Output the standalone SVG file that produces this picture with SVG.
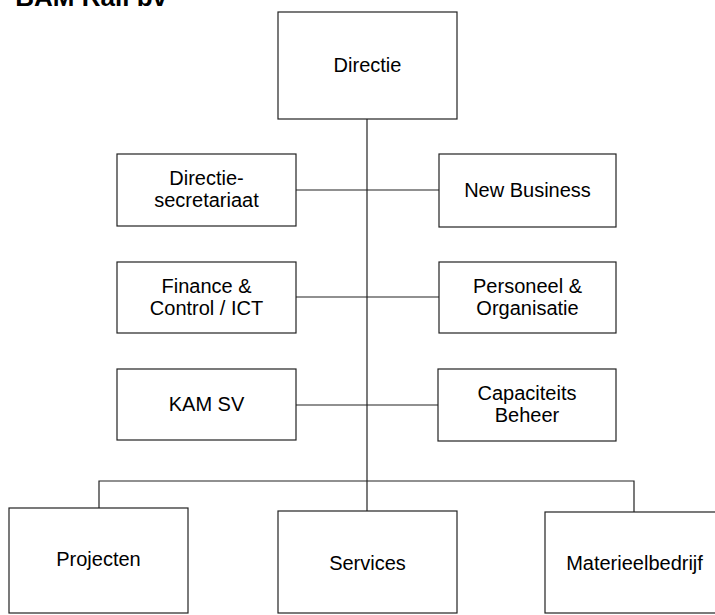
<svg xmlns="http://www.w3.org/2000/svg" width="715" height="615" viewBox="0 0 715 615">
<style>
.box{fill:#fff;stroke:#222;stroke-width:1.2}
.lbl{font-family:"Liberation Sans",Arial,sans-serif;font-size:20px;fill:#000;text-anchor:middle}
.con{stroke:#222;stroke-width:1.2;fill:none}
.title{font-family:"Liberation Sans",Arial,sans-serif;font-size:26px;font-weight:bold;fill:#000;text-anchor:end}
</style>
<rect width="715" height="615" fill="#fff"/>
<text class="title" x="167" y="6">BAM Rail bv</text>
<g id="connectors">
<line class="con" x1="367" y1="119" x2="367" y2="511"/>
<line class="con" x1="296" y1="190" x2="439" y2="190"/>
<line class="con" x1="296" y1="297" x2="439" y2="297"/>
<line class="con" x1="296" y1="405" x2="438" y2="405"/>
<polyline class="con" points="99,508 99,481 634,481 634,512"/>
</g>
<g id="directie">
<rect class="box" x="278" y="12" width="179" height="107"/>
<text class="lbl" x="367.5" y="72">Directie</text>
</g>
<g id="directiesecretariaat">
<rect class="box" x="117" y="154" width="179" height="72"/>
<text class="lbl" x="206.5" y="185">Directie-</text>
<text class="lbl" x="206.5" y="207">secretariaat</text>
</g>
<g id="newbusiness">
<rect class="box" x="439" y="154" width="177" height="73"/>
<text class="lbl" x="527.5" y="197">New Business</text>
</g>
<g id="finance">
<rect class="box" x="117" y="262" width="179" height="71"/>
<text class="lbl" x="206.5" y="293">Finance &amp;</text>
<text class="lbl" x="206.5" y="315">Control / ICT</text>
</g>
<g id="personeel">
<rect class="box" x="439" y="262" width="177" height="71"/>
<text class="lbl" x="527.5" y="293">Personeel &amp;</text>
<text class="lbl" x="527.5" y="315">Organisatie</text>
</g>
<g id="kamsv">
<rect class="box" x="117" y="369" width="179" height="71"/>
<text class="lbl" x="206.5" y="411">KAM SV</text>
</g>
<g id="capaciteitsbeheer">
<rect class="box" x="438" y="369" width="178" height="72"/>
<text class="lbl" x="527" y="400">Capaciteits</text>
<text class="lbl" x="527" y="422">Beheer</text>
</g>
<g id="projecten">
<rect class="box" x="9" y="508" width="179" height="105"/>
<text class="lbl" x="98.5" y="566">Projecten</text>
</g>
<g id="services">
<rect class="box" x="278" y="511" width="179" height="102"/>
<text class="lbl" x="367.5" y="570">Services</text>
</g>
<g id="materieelbedrijf">
<rect class="box" x="545" y="512" width="179" height="101"/>
<text class="lbl" x="634.5" y="570">Materieelbedrijf</text>
</g>
</svg>
